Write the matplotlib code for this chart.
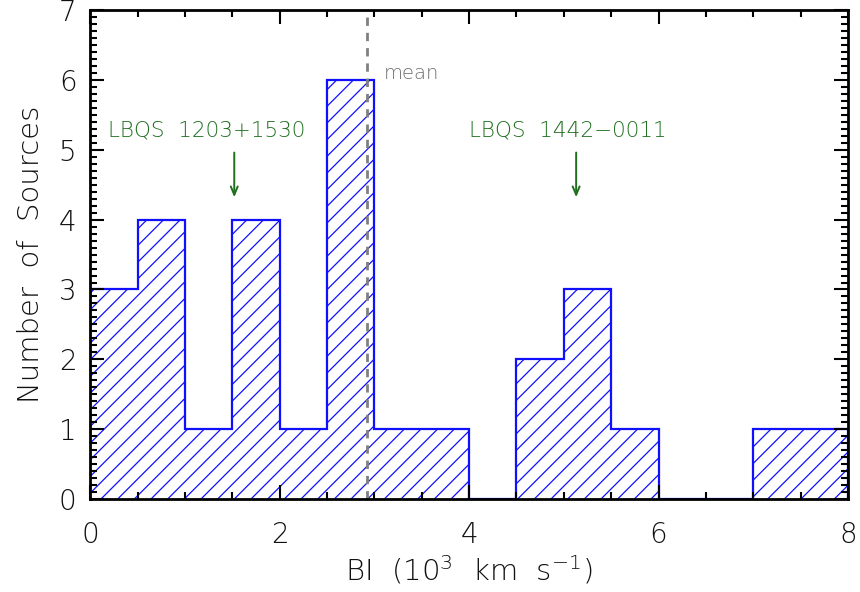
import numpy as np
import matplotlib
matplotlib.use("Agg")
import matplotlib.pyplot as plt
from matplotlib.ticker import MultipleLocator

# histogram of BI values, bin width 0.5 (10^3 km/s)
bin_edges = [0, 0.5, 1, 1.5, 2, 2.5, 3, 3.5, 4, 4.5, 5, 5.5, 6, 6.5, 7, 7.5, 8]
counts = [3, 4, 1, 4, 1, 6, 1, 1, 0, 2, 3, 1, 0, 0, 1, 1]
bi_mean = 2.92

sources = ["LBQS  1203+1530", "LBQS  1442\u22120011"]
source_bi = [1.52, 5.13]
label_x = [1.23, 5.04]

plt.rcParams['font.family'] = ['DejaVu Sans']
# thin glyphs for the math parts too
plt.rcParams['mathtext.fontset'] = 'custom'
plt.rcParams['mathtext.rm'] = 'DejaVu Sans:extralight'
plt.rcParams['mathtext.default'] = 'rm'
plt.rcParams['hatch.linewidth'] = 0.9

blue = '#1010ff'
green = '#1f6f1f'
grey = '#6e6e6e'

fig = plt.figure(figsize=(8.6, 5.92), dpi=100)
ax = fig.add_axes([0.105, 0.157, 0.881, 0.826])

ax.stairs(counts, bin_edges, fill=True, facecolor='none', edgecolor=blue,
          hatch='//', linewidth=0)
ax.stairs(counts, bin_edges, color=blue, linewidth=1.6)

ax.axvline(bi_mean, color='#808080', linestyle=(0, (3, 2.5)), linewidth=2)
ax.text(bi_mean + 0.18, 6.09, 'mean', color=grey, fontsize=14,
        va='center', fontweight='light')

for name, x, lx in zip(sources, source_bi, label_x):
    ax.text(lx, 5.28, name, color=green, fontsize=15.5, ha='center',
            va='center', fontweight='light')
    ax.annotate('', xy=(x, 4.28), xytext=(x, 5.0),
                arrowprops=dict(arrowstyle='->,head_length=0.6,head_width=0.25',
                                color=green, lw=1.4))

ax.set_xlim(0, 8)
ax.set_ylim(0, 7)
ax.xaxis.set_major_locator(MultipleLocator(2))
ax.xaxis.set_minor_locator(MultipleLocator(0.5))
ax.yaxis.set_major_locator(MultipleLocator(1))
ax.yaxis.set_minor_locator(MultipleLocator(0.1))
ax.tick_params(which='both', direction='in', top=True, right=True, width=1.5,
               labelsize=20, labelcolor='#111111')
ax.tick_params(which='major', length=10, pad=10)
ax.tick_params(axis='x', which='major', pad=16)
ax.tick_params(which='minor', length=5)
for lab in ax.get_xticklabels() + ax.get_yticklabels():
    lab.set_fontweight('light')
for s in ax.spines.values():
    s.set_linewidth(2)

ax.set_xlabel('BI  (10$^3$  km  s$^{-1}$)', fontsize=21, color='#111111',
              fontweight='light', labelpad=3)
ax.set_ylabel('Number  of  Sources', fontsize=21, labelpad=10, color='#111111',
              fontweight='light')

fig.savefig('out.png', dpi=100)
